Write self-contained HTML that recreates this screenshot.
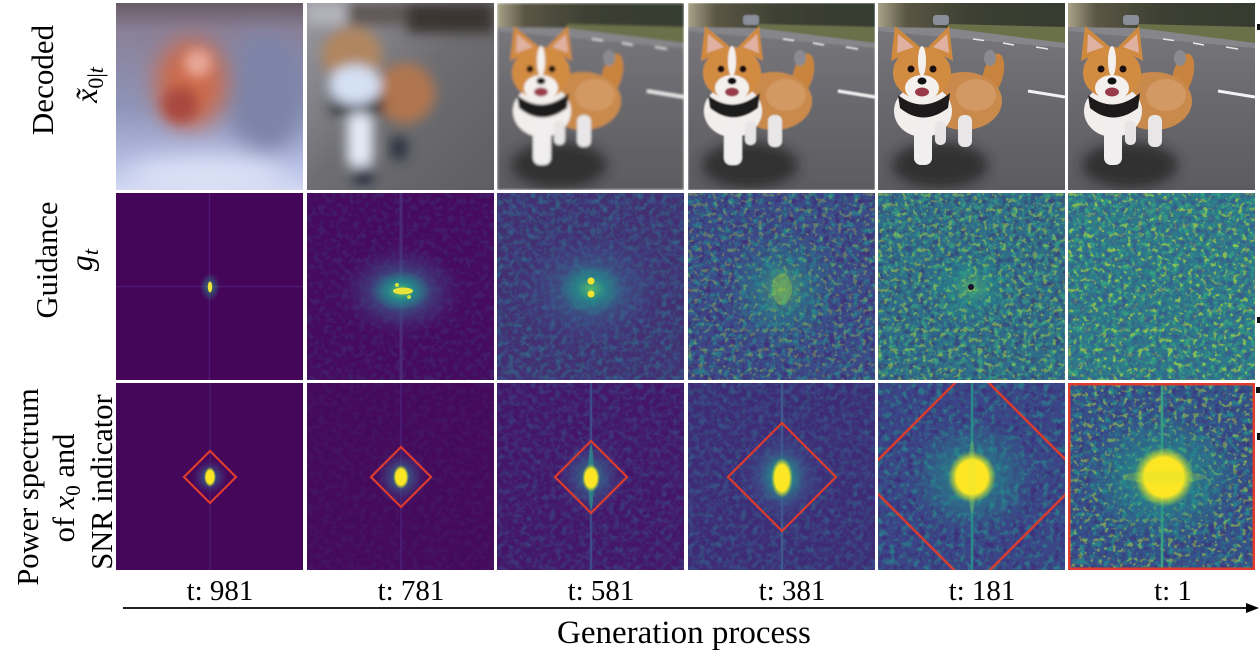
<!DOCTYPE html>
<html>
<head>
<meta charset="utf-8">
<style>
html,body{margin:0;padding:0;background:#fff;}
svg{display:block;}
text{font-family:"Liberation Serif","DejaVu Serif",serif;fill:#000;}
</style>
</head>
<body>
<svg width="1260" height="666" viewBox="0 0 1260 666" xmlns="http://www.w3.org/2000/svg">
<defs>
  <clipPath id="tc"><rect x="0" y="0" width="187" height="187"/></clipPath>
  <filter id="b1" x="-20%" y="-20%" width="140%" height="140%"><feGaussianBlur stdDeviation="1.4"/></filter>
  <filter id="b06" x="-20%" y="-20%" width="140%" height="140%"><feGaussianBlur stdDeviation="0.7"/></filter>
  <filter id="b4" x="-30%" y="-30%" width="160%" height="160%"><feGaussianBlur stdDeviation="6"/></filter>
  <filter id="b6" x="-50%" y="-50%" width="200%" height="200%"><feGaussianBlur stdDeviation="6"/></filter>
  <filter id="b12" x="-60%" y="-60%" width="220%" height="220%"><feGaussianBlur stdDeviation="12"/></filter>
  <filter id="nT" x="0" y="0" width="1" height="1" color-interpolation-filters="sRGB">
    <feTurbulence type="fractalNoise" baseFrequency="0.17" numOctaves="2" seed="2"/>
    <feColorMatrix type="matrix" values="0 0 0 0 0.15  0 0 0 0 0.56  0 0 0 0 0.55  4 0 0 0 -1.9"/>
  </filter>
  <filter id="nT2" x="0" y="0" width="1" height="1" color-interpolation-filters="sRGB">
    <feTurbulence type="fractalNoise" baseFrequency="0.18" numOctaves="2" seed="9"/>
    <feColorMatrix type="matrix" values="0 0 0 0 0.22  0 0 0 0 0.66  0 0 0 0 0.50  4 0 0 0 -1.9"/>
  </filter>
  <filter id="nY" x="0" y="0" width="1" height="1" color-interpolation-filters="sRGB">
    <feTurbulence type="fractalNoise" baseFrequency="0.2" numOctaves="2" seed="5"/>
    <feColorMatrix type="matrix" values="0 0 0 0 0.72  0 0 0 0 0.87  0 0 0 0 0.22  9 0 0 0 -5.2"/>
  </filter>
  <filter id="nD" x="0" y="0" width="1" height="1" color-interpolation-filters="sRGB">
    <feTurbulence type="fractalNoise" baseFrequency="0.17" numOctaves="2" seed="13"/>
    <feColorMatrix type="matrix" values="0 0 0 0 0.27  0 0 0 0 0.05  0 0 0 0 0.40  4 0 0 0 -1.9"/>
  </filter>
  <filter id="nB" x="0" y="0" width="1" height="1" color-interpolation-filters="sRGB">
    <feTurbulence type="fractalNoise" baseFrequency="0.17" numOctaves="2" seed="21"/>
    <feColorMatrix type="matrix" values="0 0 0 0 0.23  0 0 0 0 0.32  0 0 0 0 0.55  4 0 0 0 -1.8"/>
  </filter>
  <radialGradient id="gTeal">
    <stop offset="0" stop-color="#5ec962" stop-opacity="1"/>
    <stop offset="0.45" stop-color="#21918c" stop-opacity="0.8"/>
    <stop offset="1" stop-color="#21918c" stop-opacity="0"/>
  </radialGradient>
  <radialGradient id="gBlue">
    <stop offset="0" stop-color="#2a8a8e" stop-opacity="0.9"/>
    <stop offset="0.5" stop-color="#3b5a8c" stop-opacity="0.55"/>
    <stop offset="1" stop-color="#46327e" stop-opacity="0"/>
  </radialGradient>
  <radialGradient id="gYel">
    <stop offset="0" stop-color="#fde725" stop-opacity="1"/>
    <stop offset="0.65" stop-color="#fde725" stop-opacity="1"/>
    <stop offset="1" stop-color="#b5de2b" stop-opacity="0"/>
  </radialGradient>
  <linearGradient id="roadG" x1="0" y1="0" x2="0" y2="1">
    <stop offset="0" stop-color="#7c7c80"/>
    <stop offset="0.5" stop-color="#6a6a6e"/>
    <stop offset="1" stop-color="#5c5c60"/>
  </linearGradient>
  <linearGradient id="treeG" x1="0" y1="0" x2="1" y2="0">
    <stop offset="0" stop-color="#a8a288"/>
    <stop offset="0.15" stop-color="#5a5644"/>
    <stop offset="0.5" stop-color="#3c3f32"/>
    <stop offset="1" stop-color="#363c30"/>
  </linearGradient>
  <linearGradient id="c1G" x1="0" y1="0" x2="0" y2="1">
    <stop offset="0" stop-color="#6a5c66"/>
    <stop offset="0.15" stop-color="#8a8098"/>
    <stop offset="0.55" stop-color="#8e94b8"/>
    <stop offset="0.85" stop-color="#b4bce2"/>
    <stop offset="1" stop-color="#d2d8f2"/>
  </linearGradient>
  <linearGradient id="c2G" x1="0" y1="0" x2="1" y2="1">
    <stop offset="0" stop-color="#9a9aa2"/>
    <stop offset="0.5" stop-color="#6e6e72"/>
    <stop offset="1" stop-color="#5e5e62"/>
  </linearGradient>

  <g id="scene">
    <rect width="187" height="187" fill="url(#roadG)"/>
    <rect width="187" height="25" fill="url(#treeG)"/>
    <polygon points="70,21 187,24 187,40 70,26" fill="#6a7048"/>
    <polygon points="0,24 70,25 187,40 187,45 0,28" fill="#86868a"/>
    <line x1="95" y1="36" x2="106" y2="37.5" stroke="#e8e8e8" stroke-width="1.5"/>
    <line x1="125" y1="40" x2="136" y2="42" stroke="#e8e8e8" stroke-width="1.5"/>
    <line x1="158" y1="44" x2="170" y2="46" stroke="#e8e8e8" stroke-width="1.5"/>
    <line x1="150" y1="88" x2="187" y2="94" stroke="#f2f2f2" stroke-width="3"/>
    <ellipse cx="62" cy="162" rx="48" ry="23" fill="#222224" opacity=".75" filter="url(#b6)"/>
  </g>

  <g id="dog">
    <ellipse cx="115" cy="72" rx="10" ry="22" fill="#c8843e" transform="rotate(15 115 72)"/>
    <ellipse cx="112" cy="55" rx="6" ry="8" fill="#8a8a90"/>
    <ellipse cx="86" cy="98" rx="38" ry="29" fill="#c98a4c"/>
    <ellipse cx="98" cy="92" rx="20" ry="16" fill="#dba475" opacity=".6"/>
    <rect x="80" y="112" width="14" height="32" rx="6" fill="#e8e6e6"/>
    <ellipse cx="45" cy="108" rx="29" ry="26" fill="#f2eeec"/>
    <path d="M20 92 Q45 112 72 90 L70 105 Q45 124 22 105 Z" fill="#1c1a1a"/>
    <rect x="36" y="118" width="18" height="44" rx="7" fill="#f0eeee"/>
    <rect x="57" y="118" width="11" height="24" rx="5" fill="#e6e4e4"/>
    <polygon points="13,58 17,23 42,44" fill="#d08a40"/>
    <polygon points="19,50 20,31 36,44" fill="#e0b0a0"/>
    <polygon points="50,44 71,23 75,58" fill="#d08a40"/>
    <polygon points="55,44 69,31 71,50" fill="#e0b0a0"/>
    <ellipse cx="44" cy="70" rx="29" ry="26" fill="#d28c42"/>
    <ellipse cx="44" cy="58" rx="4" ry="15" fill="#f4f0ee"/>
    <ellipse cx="44" cy="85" rx="17" ry="13" fill="#f4f0ee"/>
    <circle cx="33" cy="66" r="3.5" fill="#1a1010"/>
    <circle cx="55" cy="66" r="3.5" fill="#1a1010"/>
    <ellipse cx="44" cy="78" rx="4.5" ry="3.5" fill="#111"/>
    <ellipse cx="44" cy="89" rx="7" ry="4.5" fill="#9a3a48"/>
  </g>
</defs>

<!-- ROW 1 -->
<g transform="translate(116,3)"><g clip-path="url(#tc)">
  <rect width="187" height="187" fill="url(#c1G)"/>
  <ellipse cx="150" cy="90" rx="40" ry="60" fill="#7c84a8" filter="url(#b12)"/>
  <ellipse cx="75" cy="80" rx="36" ry="44" fill="#cc6a4c" filter="url(#b12)"/>
  <ellipse cx="64" cy="102" rx="18" ry="18" fill="#a84a40" filter="url(#b6)"/>
  <ellipse cx="82" cy="60" rx="14" ry="14" fill="#e8a898" filter="url(#b6)"/>
  <ellipse cx="90" cy="172" rx="80" ry="18" fill="#dce2f6" filter="url(#b12)"/>
</g></g>

<g transform="translate(307,3)"><g clip-path="url(#tc)">
  <rect width="187" height="187" fill="url(#c2G)"/>
  <g filter="url(#b4)">
    <rect x="0" y="0" width="187" height="22" fill="#5e5654"/>
    <rect x="100" y="0" width="87" height="30" fill="#3a3430"/>
    <rect x="0" y="0" width="40" height="22" fill="#b4b4bc"/>
    <ellipse cx="98" cy="90" rx="30" ry="30" fill="#b07650"/>
    <ellipse cx="45" cy="52" rx="30" ry="28" fill="#b08660"/>
    <ellipse cx="48" cy="82" rx="26" ry="20" fill="#d4e0f4"/>
    <path d="M22 95 Q50 110 78 92 L76 108 Q50 122 24 108 Z" fill="#202028"/>
    <rect x="40" y="110" width="26" height="55" rx="10" fill="#e4eaf6"/>
    <ellipse cx="56" cy="172" rx="11" ry="9" fill="#1a2438"/>
    <ellipse cx="92" cy="145" rx="9" ry="13" fill="#2a3040"/>
  </g>
</g></g>

<g transform="translate(497,3)"><g clip-path="url(#tc)" filter="url(#b1)">
  <use href="#scene"/><use href="#dog"/>
</g></g>
<g transform="translate(688,3)"><g clip-path="url(#tc)" filter="url(#b06)">
  <use href="#scene"/><rect x="55" y="12" width="16" height="10" rx="3" fill="#8a8e98"/><use href="#dog"/>
</g></g>
<g transform="translate(878,3)"><g clip-path="url(#tc)">
  <use href="#scene"/><rect x="55" y="12" width="16" height="10" rx="3" fill="#8a8e98"/><use href="#dog"/>
</g></g>
<g transform="translate(1068,3)"><g clip-path="url(#tc)">
  <use href="#scene"/><rect x="55" y="12" width="16" height="10" rx="3" fill="#8a8e98"/><use href="#dog"/>
</g></g>

<!-- ROW 2 -->
<g transform="translate(116,193)"><g clip-path="url(#tc)">
  <rect width="187" height="187" fill="#45065a"/>
  <line x1="0" y1="93.5" x2="187" y2="93.5" stroke="#4d1a70" stroke-width="1.5"/>
  <line x1="93.5" y1="0" x2="93.5" y2="187" stroke="#4d1a70" stroke-width="1.5"/>
  <ellipse cx="94" cy="94" rx="10" ry="14" fill="url(#gTeal)" opacity=".55"/>
  <ellipse cx="94" cy="94" rx="2.2" ry="5.5" fill="#eee33a"/>
</g></g>

<g transform="translate(307,193)"><g clip-path="url(#tc)">
  <rect width="187" height="187" fill="#460b5e"/>
  <rect width="187" height="187" filter="url(#nB)" opacity=".25"/>
  <line x1="94" y1="0" x2="94" y2="187" stroke="#4a2a78" stroke-width="3"/>
  <ellipse cx="94" cy="98" rx="62" ry="46" fill="url(#gBlue)"/>
  <ellipse cx="94" cy="98" rx="30" ry="20" fill="url(#gTeal)" opacity=".9"/>
  <ellipse cx="96" cy="98" rx="10" ry="3.5" fill="#e8e43a"/>
  <circle cx="90" cy="92" r="2" fill="#d8e040"/>
  <circle cx="102" cy="104" r="2" fill="#c8e040"/>
</g></g>

<g transform="translate(497,193)"><g clip-path="url(#tc)">
  <rect width="187" height="187" fill="#432f72"/>
  <rect width="187" height="187" filter="url(#nB)" opacity=".7"/>
  <rect width="187" height="187" filter="url(#nT)" opacity=".35"/>
  <ellipse cx="94" cy="96" rx="78" ry="62" fill="url(#gBlue)" opacity=".85"/>
  <ellipse cx="94" cy="96" rx="32" ry="26" fill="url(#gTeal)" opacity=".8"/>
  <circle cx="94" cy="88" r="3.5" fill="#f2e430"/>
  <circle cx="94" cy="101" r="3.5" fill="#f2e430"/>
</g></g>

<g transform="translate(688,193)"><g clip-path="url(#tc)">
  <rect width="187" height="187" fill="#3c4a88"/>
  <rect width="187" height="187" filter="url(#nT)" opacity=".75"/>
  <rect width="187" height="187" filter="url(#nD)" opacity=".4"/>
  <ellipse cx="94" cy="96" rx="55" ry="60" fill="url(#gTeal)" opacity=".55"/>
  <rect width="187" height="187" filter="url(#nY)" opacity=".3"/>
  <ellipse cx="94" cy="96" rx="10" ry="16" fill="#a8d838" opacity=".3"/>
</g></g>

<g transform="translate(878,193)"><g clip-path="url(#tc)">
  <rect width="187" height="187" fill="#2e6c8a"/>
  <rect width="187" height="187" filter="url(#nT2)" opacity=".75"/>
  <rect width="187" height="187" filter="url(#nD)" opacity=".35"/>
  <ellipse cx="94" cy="94" rx="45" ry="38" fill="url(#gTeal)" opacity=".55"/>
  <rect width="187" height="187" filter="url(#nY)" opacity=".45"/>
  <circle cx="93" cy="94" r="3" fill="#1a1030"/>
</g></g>

<g transform="translate(1068,193)"><g clip-path="url(#tc)">
  <rect width="187" height="187" fill="#2c7a8a"/>
  <rect width="187" height="187" filter="url(#nT2)" opacity=".85"/>
  <rect width="187" height="187" filter="url(#nY)" opacity=".65"/>
  <rect width="187" height="187" filter="url(#nB)" opacity=".65"/>
</g></g>

<!-- ROW 3 -->
<g transform="translate(116,383)"><g clip-path="url(#tc)">
  <rect width="187" height="187" fill="#45075a"/>
  <line x1="94" y1="0" x2="94" y2="187" stroke="#4a1468" stroke-width="2"/>
  <ellipse cx="94" cy="94" rx="18" ry="18" fill="url(#gBlue)"/>
  <ellipse cx="94" cy="94" rx="6" ry="10" fill="url(#gYel)"/>
  <polygon points="94,68 120,94 94,120 68,94" fill="none" stroke="#dc3b2e" stroke-width="2.2"/>
</g></g>

<g transform="translate(307,383)"><g clip-path="url(#tc)">
  <rect width="187" height="187" fill="#460a5c"/>
  <rect width="187" height="187" filter="url(#nB)" opacity=".15"/>
  <line x1="94" y1="0" x2="94" y2="187" stroke="#4a1a6e" stroke-width="2"/>
  <ellipse cx="94" cy="94" rx="26" ry="28" fill="url(#gBlue)"/>
  <ellipse cx="94" cy="94" rx="8" ry="12" fill="url(#gYel)"/>
  <polygon points="94,64 124,94 94,124 64,94" fill="none" stroke="#dc3b2e" stroke-width="2.2"/>
</g></g>

<g transform="translate(497,383)"><g clip-path="url(#tc)">
  <rect width="187" height="187" fill="#45156a"/>
  <rect width="187" height="187" filter="url(#nB)" opacity=".4"/>
  <rect width="187" height="187" filter="url(#nT)" opacity=".15"/>
  <line x1="94" y1="0" x2="94" y2="187" stroke="#3e4a8a" stroke-width="2.5"/>
  <ellipse cx="94" cy="94" rx="36" ry="40" fill="url(#gBlue)"/>
  <ellipse cx="94" cy="94" rx="3" ry="32" fill="#2a9a88" opacity=".6"/>
  <ellipse cx="94" cy="95" rx="9" ry="14" fill="url(#gYel)"/>
  <polygon points="94,58 130,94 94,130 58,94" fill="none" stroke="#dc3b2e" stroke-width="2.2"/>
</g></g>

<g transform="translate(688,383)"><g clip-path="url(#tc)">
  <rect width="187" height="187" fill="#3f2a76"/>
  <rect width="187" height="187" filter="url(#nB)" opacity=".6"/>
  <rect width="187" height="187" filter="url(#nT)" opacity=".25"/>
  <line x1="94" y1="0" x2="94" y2="187" stroke="#3e5a8c" stroke-width="2.5"/>
  <ellipse cx="94" cy="94" rx="46" ry="50" fill="url(#gBlue)"/>
  <ellipse cx="94" cy="94" rx="22" ry="26" fill="url(#gTeal)" opacity=".7"/>
  <ellipse cx="94" cy="95" rx="11" ry="20" fill="url(#gYel)"/>
  <polygon points="94,40 148,94 94,148 40,94" fill="none" stroke="#dc3b2e" stroke-width="2.2"/>
</g></g>

<g transform="translate(878,383)"><g clip-path="url(#tc)">
  <rect width="187" height="187" fill="#3b4587"/>
  <rect width="187" height="187" filter="url(#nT)" opacity=".65"/>
  <rect width="187" height="187" filter="url(#nD)" opacity=".35"/>
  <line x1="94" y1="0" x2="94" y2="187" stroke="#2a8a8a" stroke-width="2.5"/>
  <ellipse cx="94" cy="94" rx="62" ry="58" fill="url(#gTeal)" opacity=".65"/>
  <ellipse cx="94" cy="94" rx="24" ry="26" fill="url(#gYel)"/>
  <ellipse cx="94" cy="94" rx="4" ry="36" fill="#dfe53a" opacity=".22"/>
  <polygon points="94,-17 205,94 94,205 -17,94" fill="none" stroke="#dc3b2e" stroke-width="2.4"/>
</g></g>

<g transform="translate(1068,383)"><g clip-path="url(#tc)">
  <rect width="187" height="187" fill="#36508a"/>
  <rect width="187" height="187" filter="url(#nT)" opacity=".85"/>
  <rect width="187" height="187" filter="url(#nY)" opacity=".5"/>
  <rect width="187" height="187" filter="url(#nD)" opacity=".3"/>
  <line x1="94" y1="0" x2="94" y2="187" stroke="#3aa080" stroke-width="2.5"/>
  <ellipse cx="94" cy="94" rx="78" ry="66" fill="url(#gTeal)" opacity=".7"/>
  <ellipse cx="96" cy="94" rx="30" ry="30" fill="url(#gYel)"/>
  <ellipse cx="96" cy="94" rx="42" ry="6" fill="#c8e030" opacity=".22"/>
  <rect x="1.2" y="1.2" width="184.6" height="184.6" fill="none" stroke="#dc3b2e" stroke-width="2.6"/>
</g></g>

<!-- edge marks -->
<rect x="1257" y="24" width="3" height="6" fill="#111"/>
<rect x="1257" y="317" width="3" height="6" fill="#111"/>
<rect x="1256" y="387" width="4" height="6" fill="#111"/>
<rect x="1257" y="433" width="3" height="7" fill="#111"/>

<!-- left labels -->
<text transform="translate(53,80) rotate(-90)" text-anchor="middle" font-size="31">Decoded</text>
<text transform="translate(97,85) rotate(-90)" text-anchor="middle" font-size="32" font-style="italic">x̃<tspan font-size="22" dy="6" font-style="normal">0|</tspan><tspan font-size="22" font-style="italic">t</tspan></text>

<text transform="translate(57,260) rotate(-90)" text-anchor="middle" font-size="30.5">Guidance</text>
<text transform="translate(92,260) rotate(-90)" text-anchor="middle" font-size="32" font-style="italic">g<tspan font-size="22" dy="6">t</tspan></text>

<text transform="translate(38,487) rotate(-90)" text-anchor="middle" font-size="30.5">Power spectrum</text>
<text transform="translate(74,488) rotate(-90)" text-anchor="middle" font-size="30.5">of <tspan font-style="italic">x</tspan><tspan font-size="21" dy="6">0</tspan><tspan dy="-6"> and</tspan></text>
<text transform="translate(112,482) rotate(-90)" text-anchor="middle" font-size="30.5">SNR indicator</text>

<!-- bottom labels -->
<g font-size="29" text-anchor="middle">
  <text x="220" y="600">t: 981</text>
  <text x="411" y="600">t: 781</text>
  <text x="601" y="600">t: 581</text>
  <text x="792" y="600">t: 381</text>
  <text x="982" y="600">t: 181</text>
  <text x="1173" y="600">t: 1</text>
</g>

<!-- arrow -->
<line x1="123" y1="608" x2="1248" y2="608" stroke="#000" stroke-width="1.8"/>
<polygon points="1259,608 1246,603 1246,613" fill="#000"/>

<text x="557" y="643" font-size="33">Generation process</text>
</svg>
</body>
</html>
